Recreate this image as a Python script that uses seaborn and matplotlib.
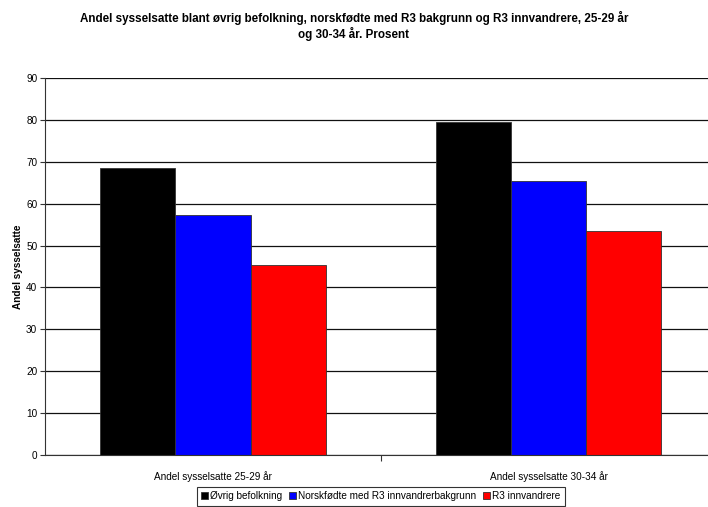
import seaborn as sns
import matplotlib.pyplot as plt
import pandas as pd

# Data
categories = ["Andel sysselsatte 25-29 år", "Andel sysselsatte 30-34 år"]
groups = ["Øvrig befolkning", "Norskfødte med R3 innvandrerbakgrunn", "R3 innvandrere"]
ovrig = [68.6, 79.4]
norskfodte = [57.3, 65.4]
innvandrere = [45.3, 53.4]
colors = ["#000000", "#0000ff", "#ff0000"]

df = pd.DataFrame({
    "kategori": categories * 3,
    "gruppe": [groups[0]] * 2 + [groups[1]] * 2 + [groups[2]] * 2,
    "verdi": ovrig + norskfodte + innvandrere,
})

if __name__ == "__main__":
    sns.set_style("white")
    plt.rcParams["font.family"] = ["Liberation Sans", "DejaVu Sans"]
    plt.rcParams["text.color"] = "black"
    plt.rcParams["axes.labelcolor"] = "black"
    plt.rcParams["xtick.color"] = "black"
    plt.rcParams["ytick.color"] = "black"

    fig = plt.figure(figsize=(7.08, 5.07), dpi=100)
    ax = fig.add_axes([0.0636, 0.1026, 0.949, 0.7434])

    sns.barplot(data=df, x="kategori", y="verdi", hue="gruppe",
                palette=colors, width=0.67, edgecolor="#333333",
                linewidth=0.6, saturation=1, ax=ax, legend=True)

    ax.set_ylim(0, 90)
    ax.set_yticks(range(0, 91, 10))
    ax.set_xlim(-0.5, 1.5)
    ax.yaxis.grid(True, color="#111111", linewidth=0.9)
    ax.set_axisbelow(True)
    for s in ["top", "right"]:
        ax.spines[s].set_visible(False)
    for s in ["left", "bottom"]:
        ax.spines[s].set_color("#333333")
        ax.spines[s].set_linewidth(0.8)

    ax.tick_params(axis="y", which="major", left=True, length=3.5, width=0.8,
                   color="#333333", labelsize=7.2, pad=2)
    ax.tick_params(axis="x", which="major", bottom=False, labelsize=7.2, pad=8)
    ax.set_xticks([0.5], minor=True)
    ax.tick_params(axis="x", which="minor", bottom=True, length=4, width=0.8,
                   color="#333333")

    ax.set_xlabel("")
    ax.set_ylabel("Andel sysselsatte", fontsize=7.2, fontweight="bold", labelpad=2)

    fig.suptitle("Andel sysselsatte blant øvrig befolkning, norskfødte med R3 bakgrunn og R3 innvandrere, 25-29 år\nog 30-34 år. Prosent",
                 x=0.5, y=0.978, fontsize=8.4, fontweight="bold", linespacing=1.12)

    leg = ax.legend(loc="lower center", ncol=3,
                    frameon=True, fancybox=False, fontsize=7.2, handlelength=0.7,
                    handleheight=0.7, handletextpad=0.2, columnspacing=0.7,
                    borderpad=0.45, borderaxespad=0)
    leg.set_bbox_to_anchor((0.538, 0.002), transform=fig.transFigure)
    leg.get_frame().set_edgecolor("black")
    leg.get_frame().set_linewidth(0.8)

    fig.savefig("out.png", dpi=100)
